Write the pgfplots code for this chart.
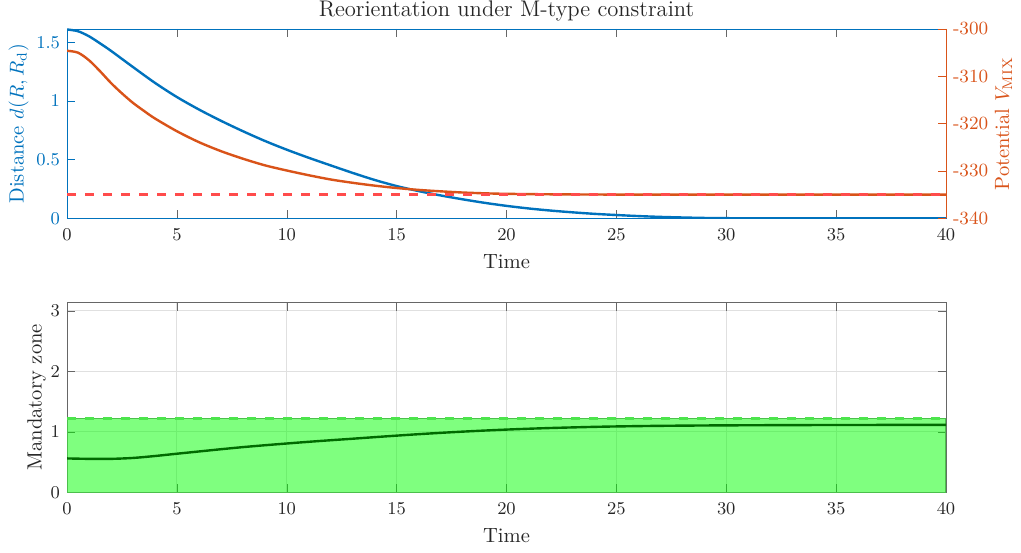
\documentclass[border=0pt]{standalone}
\usepackage{pgfplots}
\pgfplotsset{compat=1.18}
\definecolor{mblue}{rgb}{0,0.447,0.741}
\definecolor{morange}{rgb}{0.85,0.325,0.098}
\definecolor{mred}{rgb}{1,0.3,0.3}
\definecolor{txtgray}{rgb}{0.15,0.15,0.15}
\definecolor{linegray}{rgb}{0.4,0.4,0.4}
\definecolor{zonedash}{rgb}{0.3,0.9,0.3}
\definecolor{zoneedge}{rgb}{0.3,0.75,0.3}
\definecolor{dgreen}{rgb}{0,0.42,0}
\pgfplotsset{
  common/.style={
    scale only axis, width=439.5pt,
    xmin=0, xmax=40,
    tick label style={font=\fontsize{9.3}{11}\selectfont},
    xticklabel style={yshift=-2pt},
    label style={font=\fontsize{10.3}{12}\selectfont},
    title style={font=\fontsize{11.3}{13}\selectfont, text=txtgray, anchor=base},
    major tick length=4.2pt,
  }
}
\begin{document}
\begin{tikzpicture}
\path[use as bounding box] (0,0) rectangle (510.5pt,276pt);
% ---------------- top, left axis
\begin{axis}[common,
  at={(33.5pt,166.85pt)}, anchor=south west, height=94.65pt,
  ymin=0, ymax=1.614,
  xtick={0,5,...,40}, ytick={0,0.5,1,1.5},
  ytick pos=left,
  x axis line style={linegray}, y axis line style={mblue},
  xtick style={linegray}, ytick style={mblue},
  xticklabel style={text=txtgray}, yticklabel style={text=mblue},
  xlabel={Time}, xlabel style={text=txtgray},
  ylabel={Distance $d(R,R_{\mathrm{d}})$}, ylabel style={text=mblue}, ylabel shift=-3pt,
  title={Reorientation under M-type constraint},
]
\addplot[mblue, line width=1.2pt, smooth] coordinates {
(0,1.610) (0.5,1.595) (1,1.552) (1.5,1.492) (2,1.428) (3,1.290) (4,1.155) (5,1.034)
(6,0.928) (7,0.832) (8,0.743) (9,0.660) (10,0.585) (11,0.516) (12,0.451) (13,0.387)
(14,0.327) (15,0.275) (16,0.232) (17,0.195) (18,0.162) (19,0.132) (20,0.106)
(21,0.084) (22,0.066) (23,0.051) (24,0.038) (25,0.028) (26,0.019) (27,0.012)
(28,0.007) (29,0.003) (30,0.001) (32,0.0) (40,0.0)};
\end{axis}
% ---------------- top, right axis
\begin{axis}[common,
  at={(33.5pt,166.85pt)}, anchor=south west, height=94.65pt,
  ymin=-340, ymax=-300,
  axis x line=none, axis y line*=right,
  ytick={-340,-330,-320,-310,-300},
  yticklabels={-340,-330,-320,-310,-300},
  y axis line style={morange}, ytick style={morange},
  yticklabel style={text=morange},
  ylabel={Potential $V_{\mathrm{MIX}}$}, ylabel style={text=morange}, ylabel shift=-3.5pt,
]
\addplot[morange, line width=1.2pt, smooth] coordinates {
(0,-304.6) (0.5,-305.0) (1,-306.6) (1.5,-308.9) (2,-311.4) (2.5,-313.6) (3,-315.6)
(3.5,-317.3) (4,-318.9) (5,-321.6) (6,-323.9) (7,-325.8) (8,-327.4) (9,-328.8)
(10,-329.9) (11,-330.9) (12,-331.8) (13,-332.5) (14,-333.1) (15,-333.6) (16,-334.0)
(17,-334.3) (18,-334.55) (19,-334.72) (20,-334.83) (22,-334.93) (25,-334.99)
(28,-335.0) (40,-335.0)};
\addplot[mred, line width=1.2pt, dash pattern=on 4.5pt off 4.5pt] coordinates {(0,-335) (40,-335)};
\end{axis}
% ---------------- bottom axis
\begin{axis}[common,
  at={(33.5pt,29.85pt)}, anchor=south west, height=95pt,
  ymin=0, ymax=3.1416,
  xtick={0,5,...,40}, ytick={0,1,2,3},
  grid=major, grid style={black!12},
  axis line style={linegray}, tick style={linegray},
  tick label style={text=txtgray},
  xlabel={Time}, ylabel={Mandatory zone}, ylabel shift=-4.5pt,
  label style={text=txtgray},
]
\addplot[draw=zoneedge, line width=0.6pt, fill=green, fill opacity=0.5] coordinates {(0,0) (0,1.22) (40,1.22) (40,0)} -- cycle;
\addplot[zonedash, line width=1.2pt, dash pattern=on 4.5pt off 4.5pt] coordinates {(0,1.22) (40,1.22)};
\addplot[dgreen, line width=1.2pt, smooth] coordinates {
(0,0.560) (1,0.553) (2,0.553) (3,0.568) (4,0.600) (5,0.638) (6,0.675) (7,0.712)
(8,0.747) (9,0.778) (10,0.807) (11,0.835) (12,0.861) (13,0.886) (14,0.912) (15,0.937)
(16,0.961) (17,0.983) (18,1.003) (19,1.021) (20,1.037) (21,1.051) (22,1.063) (23,1.073)
(24,1.082) (25,1.089) (27,1.099) (30,1.107) (35,1.113) (40,1.114)};
\end{axis}
\end{tikzpicture}
\end{document}
